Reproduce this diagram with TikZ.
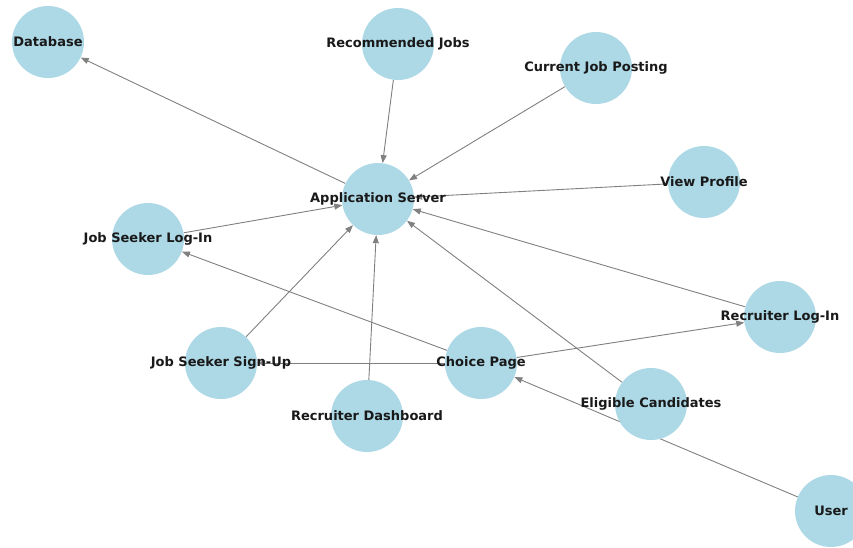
\documentclass[tikz,border=0pt]{standalone}
\usepackage{fontspec}
\setmainfont{DejaVu Sans}
\usetikzlibrary{arrows.meta,backgrounds}
\definecolor{nodeblue}{HTML}{ADD8E6}
\tikzset{
	page/.style={circle, fill=nodeblue, minimum size=72pt, inner sep=0pt,
		label={[font=\fontsize{13}{15}\selectfont\bfseries, text=black!90]center:#1}},
	link/.style={draw=gray, line width=0.9pt, -{Triangle[length=8pt,width=6pt]}}
}
\begin{document}
\begin{tikzpicture}[x=1pt,y=-1pt]
	\useasboundingbox (0,0) rectangle (853,547);
	\clip (0,0) rectangle (853,547);

	\node[page=Database] (db) at (48,42) {};
	\node[page=Recommended Jobs] (rec) at (398,44) {};
	\node[page=Current Job Posting] (cur) at (596,68) {};
	\node[page=Application Server] (srv) at (378,199) {};
	\node[page=View Profile] (view) at (704,182) {};
	\node[page=Job Seeker Log-In] (jsl) at (148,239) {};
	\node[page=Recruiter Log-In] (rl) at (780,317) {};
	\node[page=Job Seeker Sign-Up] (jss) at (221,363) {};
	\node[page=Choice Page] (choice) at (481,363) {};
	\node[page=Recruiter Dashboard] (rdash) at (367,416) {};
	\node[page=Eligible Candidates] (elig) at (651,404) {};
	\node[page=User] (user) at (831,511) {};

	\begin{scope}[on background layer]
		\draw[link] (srv) -- (db);
		\draw[link] (rec) -- (srv);
		\draw[link] (cur) -- (srv);
		\draw[link] (view) -- (srv);
		\draw[link] (jsl) -- (srv);
		\draw[link] (rl) -- (srv);
		\draw[link] (jss) -- (srv);
		\draw[link] (rdash) -- (srv);
		\draw[link] (elig) -- (srv);
		\draw[link] (choice) -- (jsl);
		\draw[link] (choice) -- (jss);
		\draw[link] (choice) -- (rl);
		\draw[link] (user) -- (choice);
	\end{scope}
\end{tikzpicture}
\end{document}
